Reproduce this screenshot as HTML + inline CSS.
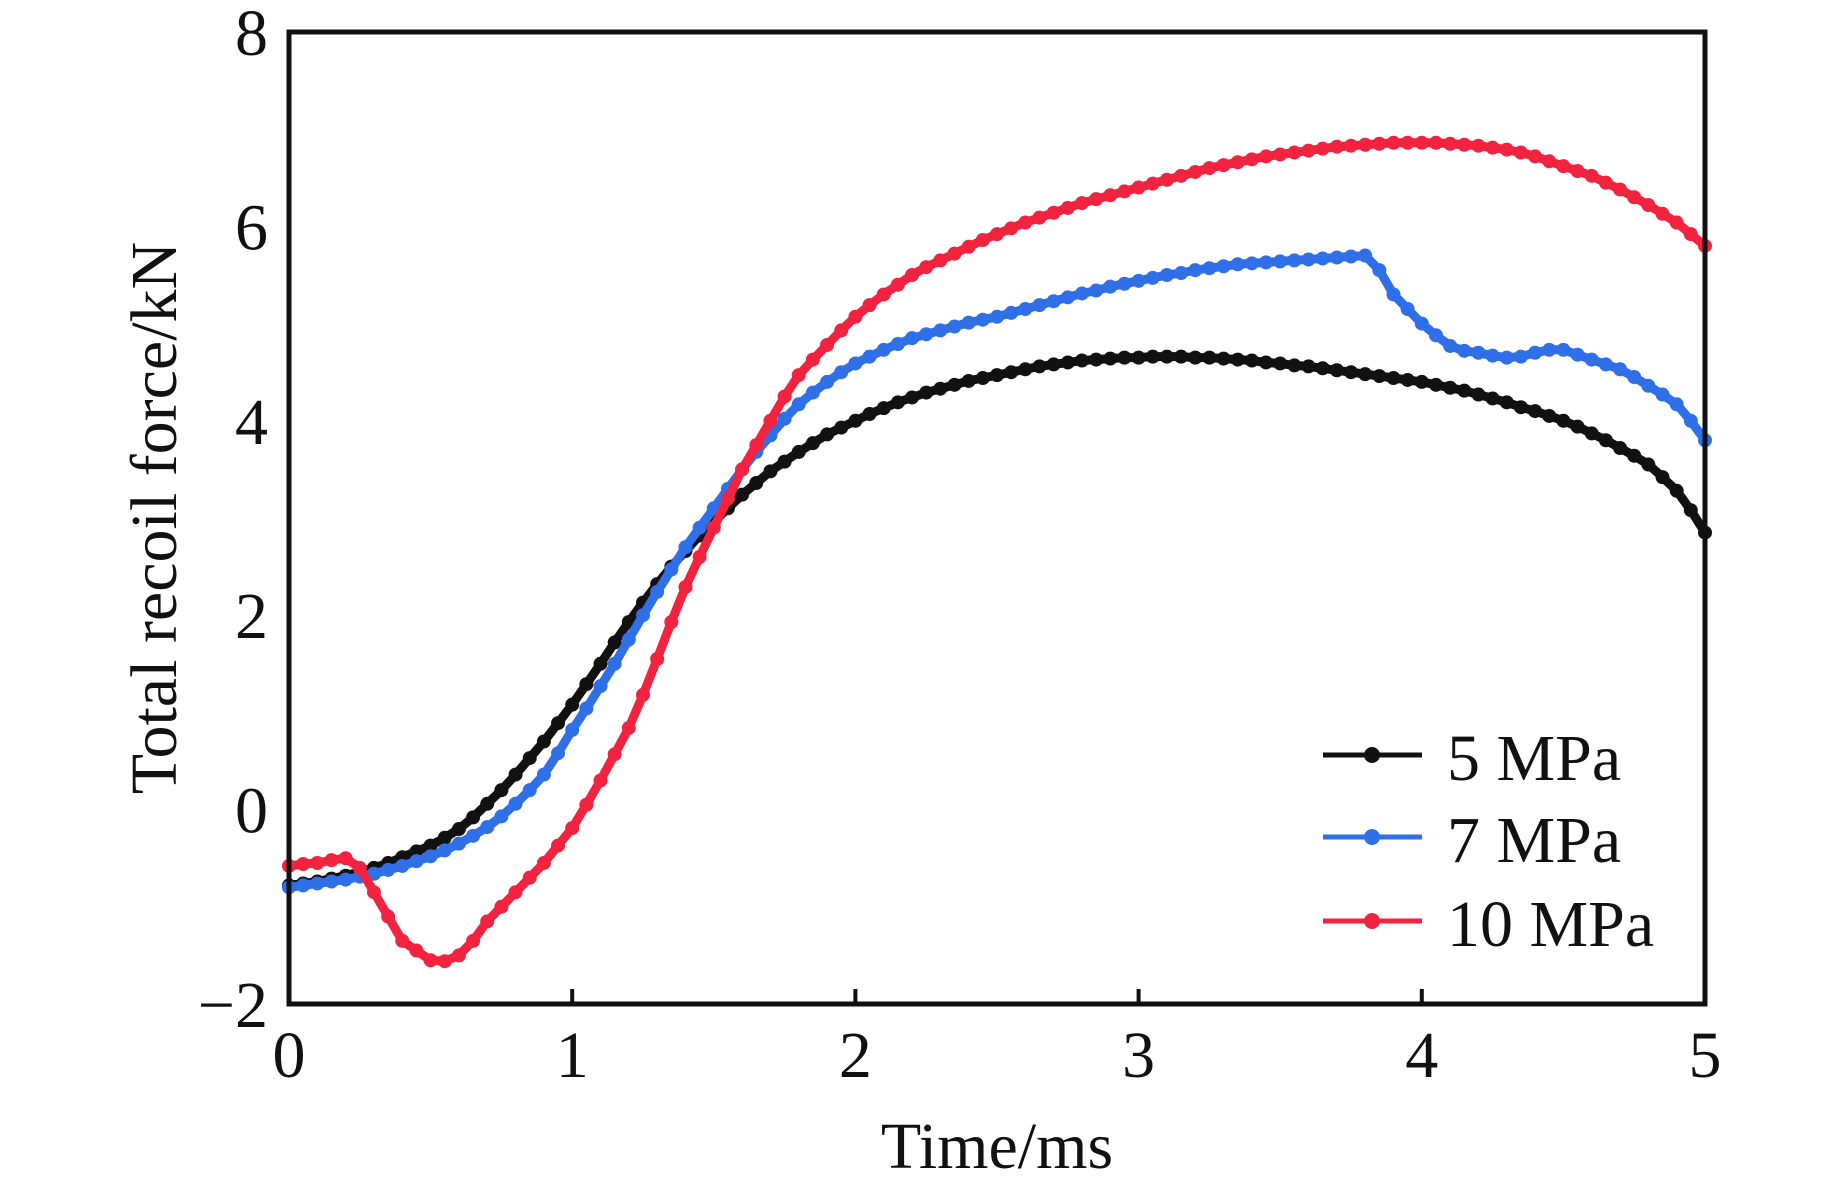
<!DOCTYPE html>
<html><head><meta charset="utf-8"><style>
html,body{margin:0;padding:0;background:#fff;}
svg{display:block;}
text{font-family:"Liberation Serif",serif;fill:#111;}
</style></head><body>
<svg id="chart" width="1843" height="1191" viewBox="0 0 1843 1191" xmlns="http://www.w3.org/2000/svg">
<g id="marks"></g>
<rect x="289" y="32" width="1416" height="972" fill="none" stroke="#111" stroke-width="5"/>
<g id="axes"></g>
<text x="997" y="1168" font-size="66" text-anchor="middle">Time/ms</text>
<text x="0" y="0" font-size="66" text-anchor="middle" transform="translate(176,518) rotate(-90)">Total recoil force/kN</text>
<g>
 <g>
  <line x1="1323" y1="755" x2="1422" y2="755" stroke="#111" stroke-width="5"/>
  <circle cx="1372" cy="755" r="8" fill="#111"/>
  <text x="1447" y="780" font-size="66">5 MPa</text>
 </g>
 <g>
  <line x1="1323" y1="837" x2="1422" y2="837" stroke="#2f6fe8" stroke-width="5"/>
  <circle cx="1372" cy="837" r="8" fill="#2f6fe8"/>
  <text x="1447" y="862" font-size="66">7 MPa</text>
 </g>
 <g>
  <line x1="1323" y1="921" x2="1422" y2="921" stroke="#f2233f" stroke-width="5"/>
  <circle cx="1372" cy="921" r="8" fill="#f2233f"/>
  <text x="1447" y="946" font-size="66">10 MPa</text>
 </g>
</g>
</svg>
<script>
const xTicks = [0,1,2,3,4,5];
const yTicks = [-2,0,2,4,6,8];
const yTickLabels = ["\u22122","0","2","4","6","8"];
const timeStep = 0.05;
const series5 = [
-0.78,-0.76,-0.74,-0.71,-0.68,-0.64,-0.6,-0.55,-0.49,-0.43,
-0.37,-0.29,-0.2,-0.08,0.06,0.2,0.36,0.53,0.7,0.89,
1.08,1.29,1.5,1.72,1.93,2.13,2.32,2.5,2.66,2.82,
2.96,3.1,3.24,3.36,3.48,3.58,3.68,3.77,3.86,3.93,
4.0,4.07,4.13,4.19,4.24,4.29,4.33,4.37,4.41,4.44,
4.47,4.5,4.53,4.56,4.58,4.6,4.62,4.63,4.64,4.65,
4.65,4.66,4.66,4.66,4.65,4.65,4.64,4.63,4.62,4.6,
4.59,4.57,4.56,4.54,4.52,4.5,4.48,4.46,4.44,4.42,
4.4,4.37,4.34,4.31,4.27,4.23,4.19,4.14,4.1,4.05,
4.0,3.94,3.87,3.8,3.72,3.64,3.55,3.42,3.28,3.08,
2.85];
const series7 = [
-0.8,-0.78,-0.76,-0.74,-0.72,-0.69,-0.66,-0.62,-0.58,-0.53,
-0.48,-0.42,-0.35,-0.27,-0.18,-0.07,0.06,0.2,0.36,0.58,
0.82,1.04,1.27,1.5,1.75,2.0,2.24,2.47,2.7,2.9,
3.1,3.3,3.5,3.68,3.85,4.02,4.17,4.29,4.4,4.5,
4.59,4.66,4.73,4.79,4.85,4.89,4.93,4.97,5.01,5.04,
5.07,5.11,5.15,5.19,5.23,5.27,5.31,5.34,5.38,5.41,
5.44,5.47,5.5,5.52,5.55,5.57,5.59,5.61,5.62,5.63,
5.64,5.65,5.66,5.67,5.68,5.69,5.7,5.55,5.3,5.15,
5.0,4.88,4.77,4.72,4.7,4.67,4.65,4.66,4.7,4.73,
4.73,4.68,4.63,4.58,4.53,4.45,4.36,4.27,4.17,4.0,
3.8];
const series10 = [
-0.58,-0.56,-0.55,-0.52,-0.5,-0.6,-0.85,-1.1,-1.35,-1.45,
-1.55,-1.56,-1.5,-1.35,-1.15,-1.0,-0.85,-0.7,-0.55,-0.37,
-0.19,0.05,0.3,0.57,0.84,1.18,1.55,1.93,2.29,2.6,
2.9,3.2,3.5,3.75,4.0,4.25,4.47,4.63,4.78,4.93,
5.07,5.19,5.3,5.4,5.5,5.58,5.65,5.72,5.79,5.86,
5.92,5.98,6.04,6.09,6.14,6.19,6.24,6.28,6.32,6.36,
6.4,6.44,6.48,6.52,6.56,6.6,6.63,6.66,6.69,6.72,
6.74,6.76,6.78,6.8,6.82,6.83,6.84,6.85,6.86,6.86,
6.86,6.86,6.85,6.84,6.83,6.81,6.79,6.76,6.72,6.67,
6.62,6.57,6.52,6.45,6.38,6.3,6.22,6.13,6.04,5.92,
5.8];

const NS = "http://www.w3.org/2000/svg";
const X0 = 289, X1 = 1705, Y0 = 1004, Y1 = 32;
function xs(t){ return X0 + (t - 0) / 5 * (X1 - X0); }
function ys(v){ return Y0 - (v + 2) / 10 * (Y0 - Y1); }

const axes = document.getElementById('axes');
xTicks.forEach(function(t){
  if (t > 0 && t < 5) {
    const ln = document.createElementNS(NS,'line');
    
    
    ln.setAttribute('x1', xs(t)); ln.setAttribute('x2', xs(t));
    ln.setAttribute('y1', Y0); ln.setAttribute('y2', Y0 - 15);
    ln.setAttribute('stroke', '#111'); ln.setAttribute('stroke-width', '4');
    axes.appendChild(ln);
  }
  const tx = document.createElementNS(NS,'text');
  
  
  tx.setAttribute('x', xs(t)); tx.setAttribute('y', 1077);
  tx.setAttribute('font-size', '66'); tx.setAttribute('text-anchor', 'middle');
  tx.textContent = String(t);
  axes.appendChild(tx);
});
yTicks.forEach(function(v, i){
  const tx = document.createElementNS(NS,'text');
  
  
  tx.setAttribute('x', 268); tx.setAttribute('y', ys(v) + 23);
  tx.setAttribute('font-size', '66'); tx.setAttribute('text-anchor', 'end');
  tx.textContent = yTickLabels[i];
  axes.appendChild(tx);
});

const marks = document.getElementById('marks');
function drawSeries(vals, color, name){
  const g = document.createElementNS(NS,'g');
  
  
  let d = '';
  vals.forEach(function(v, i){ d += (i ? 'L' : 'M') + xs(i * timeStep).toFixed(1) + ',' + ys(v).toFixed(1); });
  const p = document.createElementNS(NS,'path');
  
  
  p.setAttribute('d', d); p.setAttribute('fill', 'none');
  p.setAttribute('stroke', color); p.setAttribute('stroke-width', '9');
  p.setAttribute('stroke-linejoin', 'round');
  g.appendChild(p);
  vals.forEach(function(v, i){
    const c = document.createElementNS(NS,'circle');
    
    
    c.setAttribute('cx', xs(i * timeStep)); c.setAttribute('cy', ys(v));
    c.setAttribute('r', '7'); c.setAttribute('fill', color);
    g.appendChild(c);
  });
  marks.appendChild(g);
}
drawSeries(series5, '#111111', 'series-5mpa');
drawSeries(series7, '#2f6fe8', 'series-7mpa');
drawSeries(series10, '#f2233f', 'series-10mpa');
</script>
</body></html>
